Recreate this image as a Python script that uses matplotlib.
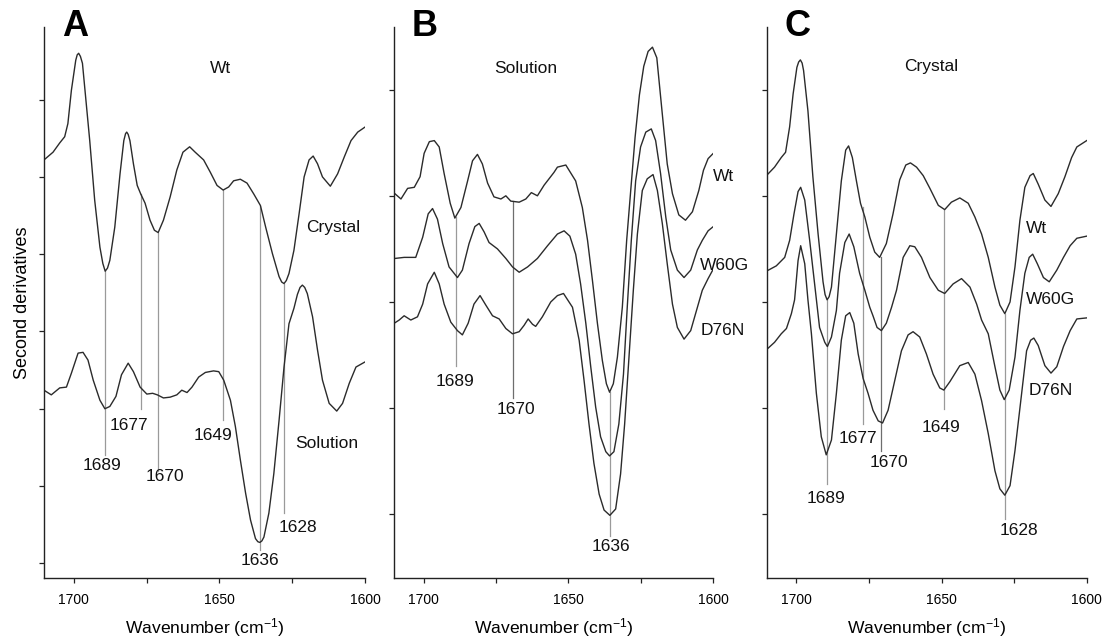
import matplotlib
matplotlib.use("Agg")
import matplotlib.pyplot as plt

plt.rcParams["font.family"] = ["Liberation Sans", "DejaVu Sans"]
plt.rcParams["mathtext.fontset"] = "custom"
plt.rcParams["mathtext.rm"] = "Liberation Sans"

# ── Panel A: wild type, crystal vs solution (arbitrary 2nd-derivative units) ──
A_CRYSTAL_WN = [1710.2, 1707.1, 1704.8, 1703.1, 1702.0, 1700.8, 1699.3, 1698.8, 1698.3,
                1697.7, 1697.0, 1695.9, 1694.5, 1692.8, 1691.0, 1690.0, 1689.2, 1688.4,
                1687.6, 1685.9, 1684.1, 1682.8, 1682.2, 1681.8, 1681.3, 1680.7, 1679.5,
                1678.2, 1677.0, 1675.5, 1673.8, 1672.3, 1671.0, 1669.2, 1666.9, 1664.6,
                1662.5, 1660.2, 1658.3, 1655.4, 1653.1, 1650.8, 1648.7, 1646.8, 1645.1,
                1642.8, 1640.5, 1638.2, 1635.9, 1634.1, 1631.8, 1629.5, 1628.6, 1627.8,
                1627.0, 1626.1, 1624.4, 1622.6, 1620.9, 1619.2, 1617.8, 1616.3, 1614.6,
                1611.9, 1609.4, 1607.1, 1604.8, 1602.5, 1599.8]
A_CRYSTAL_D2 = [5.22, 5.32, 5.44, 5.52, 5.69, 6.12, 6.51, 6.58, 6.60,
                6.56, 6.47, 6.03, 5.47, 4.70, 4.09, 3.88, 3.78, 3.82,
                3.92, 4.35, 5.04, 5.47, 5.56, 5.58, 5.55, 5.47, 5.17,
                4.89, 4.78, 4.66, 4.44, 4.31, 4.28, 4.44, 4.74, 5.09,
                5.32, 5.39, 5.32, 5.22, 5.06, 4.89, 4.83, 4.87, 4.95,
                4.97, 4.92, 4.78, 4.63, 4.35, 4.01, 3.71, 3.64, 3.62,
                3.66, 3.75, 4.05, 4.53, 5.00, 5.22, 5.27, 5.17, 5.00,
                4.88, 5.04, 5.26, 5.47, 5.58, 5.65]

A_SOLUTION_WN = [1710.2, 1707.7, 1704.8, 1702.5, 1700.8, 1698.5, 1696.8, 1695.1, 1693.3,
                 1691.0, 1689.3, 1687.6, 1685.5, 1683.6, 1681.3, 1679.5, 1677.2, 1674.9,
                 1672.9, 1671.3, 1669.2, 1666.9, 1664.6, 1662.9, 1661.1, 1659.4, 1657.1,
                 1654.8, 1652.0, 1650.2, 1648.5, 1646.2, 1644.5, 1642.8, 1641.0, 1639.3,
                 1637.6, 1636.8, 1636.1, 1635.4, 1634.7, 1633.0, 1631.3, 1629.5, 1627.8,
                 1626.1, 1624.4, 1623.2, 1622.3, 1621.5, 1620.7, 1619.8, 1618.0, 1616.3,
                 1614.6, 1612.3, 1609.7, 1607.7, 1605.4, 1603.1, 1599.8]
A_SOLUTION_D2 = [2.24, 2.18, 2.27, 2.28, 2.46, 2.72, 2.73, 2.63, 2.37,
                 2.11, 2.00, 2.03, 2.16, 2.44, 2.59, 2.48, 2.28, 2.19,
                 2.20, 2.18, 2.14, 2.15, 2.18, 2.24, 2.21, 2.28, 2.41,
                 2.47, 2.49, 2.48, 2.37, 2.11, 1.77, 1.34, 0.91, 0.56,
                 0.32, 0.28, 0.27, 0.29, 0.34, 0.65, 1.16, 1.85, 2.54,
                 3.10, 3.30, 3.48, 3.57, 3.60, 3.57, 3.49, 3.19, 2.76,
                 2.37, 2.07, 1.97, 2.07, 2.33, 2.54, 2.61]

# ── Panel B: solution spectra ───────────────────────────────────────────────
B_WT_WN = [1709.9, 1707.8, 1705.5, 1703.2, 1701.2, 1699.8, 1698.0, 1696.3, 1694.6,
           1692.9, 1690.8, 1689.2, 1687.1, 1684.8, 1683.1, 1681.4, 1679.7, 1677.9,
           1675.7, 1673.3, 1671.6, 1669.9, 1667.0, 1664.7, 1662.8, 1660.7, 1658.4,
           1655.0, 1653.8, 1650.9, 1647.5, 1645.2, 1643.4, 1641.7, 1640.0, 1638.3,
           1636.9, 1635.8, 1634.5, 1633.1, 1631.4, 1629.9, 1628.5, 1627.0, 1625.5,
           1624.0, 1622.5, 1621.0, 1619.5, 1617.6, 1615.9, 1614.1, 1611.9, 1609.6,
           1607.2, 1605.0, 1603.4, 1601.8, 1600.0]
B_WT_D2 = [3.02, 2.97, 3.07, 3.08, 3.18, 3.40, 3.51, 3.52, 3.46,
           3.21, 2.93, 2.79, 2.89, 3.14, 3.33, 3.39, 3.30, 3.12,
           2.99, 2.97, 3.00, 2.95, 2.94, 2.97, 3.03, 3.00, 3.10,
           3.22, 3.27, 3.29, 3.14, 2.89, 2.58, 2.20, 1.80, 1.45,
           1.23, 1.15, 1.23, 1.48, 1.95, 2.58, 3.05, 3.55, 3.95,
           4.22, 4.36, 4.40, 4.30, 3.77, 3.30, 3.02, 2.82, 2.77,
           2.85, 3.05, 3.24, 3.35, 3.40]

B_W60G_WN = [1709.9, 1706.7, 1702.7, 1700.3, 1698.4, 1696.9, 1695.2, 1693.4, 1691.2,
             1688.3, 1686.6, 1684.3, 1682.3, 1680.8, 1679.1, 1677.4, 1674.5, 1671.6,
             1669.3, 1667.0, 1664.1, 1660.7, 1657.2, 1653.8, 1651.5, 1649.5, 1647.5,
             1645.8, 1644.0, 1642.3, 1640.6, 1638.9, 1637.1, 1635.8, 1634.3, 1632.6,
             1631.0, 1629.7, 1628.3, 1626.8, 1625.1, 1623.3, 1621.4, 1619.9, 1618.2,
             1616.4, 1614.7, 1612.4, 1610.1, 1607.8, 1605.5, 1603.8, 1601.8, 1600.0]
B_W60G_D2 = [2.41, 2.42, 2.42, 2.61, 2.83, 2.88, 2.78, 2.55, 2.33,
             2.23, 2.30, 2.55, 2.71, 2.74, 2.66, 2.56, 2.50, 2.41,
             2.33, 2.28, 2.33, 2.41, 2.53, 2.64, 2.67, 2.62, 2.45,
             2.17, 1.80, 1.39, 1.01, 0.73, 0.59, 0.55, 0.59, 0.85,
             1.32, 1.95, 2.58, 3.14, 3.46, 3.60, 3.63, 3.52, 3.21,
             2.80, 2.49, 2.30, 2.23, 2.30, 2.49, 2.58, 2.67, 2.71]

B_D76N_WN = [1710.1, 1708.4, 1706.7, 1704.4, 1702.1, 1700.3, 1698.6, 1696.3, 1694.6,
             1692.9, 1690.6, 1688.3, 1686.6, 1684.6, 1682.6, 1680.5, 1678.5, 1676.2,
             1673.9, 1671.6, 1669.3, 1667.0, 1665.3, 1663.9, 1662.4, 1661.3, 1659.0,
             1656.1, 1653.8, 1651.7, 1648.6, 1646.3, 1644.6, 1642.9, 1641.2, 1639.4,
             1637.7, 1635.7, 1633.7, 1632.0, 1630.6, 1629.1, 1627.6, 1626.2, 1624.5,
             1622.8, 1620.8, 1619.3, 1617.6, 1615.9, 1614.1, 1612.4, 1610.1, 1607.8,
             1605.8, 1603.8, 1601.8, 1600.0]
B_D76N_D2 = [1.80, 1.83, 1.87, 1.83, 1.86, 1.98, 2.17, 2.28, 2.17,
             1.98, 1.81, 1.73, 1.69, 1.80, 1.98, 2.06, 1.97, 1.87,
             1.84, 1.75, 1.70, 1.72, 1.78, 1.84, 1.79, 1.77, 1.86,
             2.00, 2.06, 2.08, 1.95, 1.64, 1.26, 0.85, 0.48, 0.19,
             0.04, -0.01, 0.05, 0.38, 0.85, 1.48, 2.11, 2.64, 3.05,
             3.16, 3.20, 3.05, 2.74, 2.36, 1.98, 1.76, 1.65, 1.73,
             1.92, 2.11, 2.22, 2.31]

# ── Panel C: crystal spectra ────────────────────────────────────────────────
C_WT_WN = [1710.3, 1707.5, 1705.2, 1703.7, 1702.3, 1701.1, 1699.8, 1699.2, 1698.6,
           1698.0, 1697.5, 1696.0, 1694.3, 1692.5, 1690.8, 1690.1, 1689.4, 1688.7,
           1687.9, 1686.2, 1684.5, 1683.0, 1682.0, 1680.7, 1679.3, 1677.9, 1676.4,
           1674.7, 1673.0, 1671.3, 1669.0, 1666.7, 1664.4, 1662.3, 1660.7, 1658.6,
           1656.3, 1654.0, 1651.1, 1648.9, 1646.6, 1643.7, 1640.8, 1638.5, 1636.2,
           1633.9, 1631.6, 1629.9, 1628.2, 1626.4, 1624.7, 1623.0, 1621.3, 1619.5,
           1618.4, 1616.7, 1614.4, 1612.3, 1609.8, 1607.5, 1605.2, 1603.4, 1600.0]
C_WT_D2 = [3.19, 3.27, 3.36, 3.41, 3.65, 3.96, 4.21, 4.26, 4.28,
           4.25, 4.18, 3.80, 3.18, 2.64, 2.19, 2.07, 2.02, 2.05,
           2.14, 2.64, 3.14, 3.43, 3.47, 3.36, 3.14, 2.93, 2.80,
           2.61, 2.47, 2.42, 2.55, 2.83, 3.15, 3.29, 3.31, 3.27,
           3.19, 3.07, 2.91, 2.87, 2.94, 2.98, 2.93, 2.80, 2.64,
           2.42, 2.14, 1.97, 1.89, 2.00, 2.33, 2.77, 3.08, 3.19,
           3.21, 3.11, 2.96, 2.90, 3.02, 3.18, 3.36, 3.46, 3.52]

C_W60G_WN = [1710.3, 1706.9, 1704.0, 1702.3, 1700.8, 1699.4, 1698.5, 1697.1, 1695.4,
             1693.7, 1692.0, 1690.2, 1689.3, 1687.9, 1686.2, 1685.1, 1683.3, 1681.8,
             1680.2, 1678.2, 1676.4, 1674.7, 1673.6, 1672.2, 1670.7, 1669.0, 1667.2,
             1665.5, 1663.2, 1660.9, 1659.2, 1656.9, 1654.0, 1651.1, 1648.9, 1646.0,
             1643.1, 1640.2, 1637.9, 1636.2, 1633.9, 1631.6, 1629.9, 1628.4, 1626.7,
             1624.7, 1623.0, 1621.3, 1619.8, 1618.6, 1617.0, 1614.9, 1612.9, 1610.3,
             1608.0, 1605.7, 1603.4, 1600.0]
C_W60G_D2 = [2.29, 2.34, 2.42, 2.58, 2.83, 3.04, 3.08, 2.96, 2.58,
             2.17, 1.76, 1.62, 1.58, 1.67, 1.92, 2.27, 2.56, 2.64,
             2.52, 2.27, 2.11, 1.95, 1.87, 1.76, 1.73, 1.80, 1.95,
             2.11, 2.42, 2.53, 2.52, 2.42, 2.23, 2.11, 2.08, 2.17,
             2.22, 2.14, 1.98, 1.83, 1.70, 1.39, 1.17, 1.08, 1.17,
             1.48, 1.92, 2.27, 2.42, 2.45, 2.36, 2.23, 2.19, 2.30,
             2.42, 2.53, 2.60, 2.62]

C_D76N_WN = [1710.3, 1707.5, 1705.2, 1703.4, 1701.7, 1700.6, 1699.4, 1698.5, 1697.1,
             1696.0, 1694.8, 1693.1, 1691.4, 1689.7, 1687.9, 1686.2, 1684.5, 1683.0,
             1681.6, 1680.2, 1678.7, 1677.0, 1675.3, 1673.6, 1671.8, 1670.3, 1668.4,
             1666.1, 1663.8, 1661.5, 1659.8, 1657.5, 1655.2, 1652.9, 1650.6, 1649.2,
             1647.1, 1643.7, 1640.8, 1638.5, 1636.2, 1633.9, 1631.6, 1629.9, 1628.2,
             1626.4, 1624.7, 1622.4, 1620.7, 1619.3, 1618.2, 1616.7, 1614.4, 1612.3,
             1610.3, 1608.0, 1605.7, 1603.4, 1600.0]
C_D76N_D2 = [1.55, 1.62, 1.70, 1.75, 1.89, 2.02, 2.39, 2.53, 2.36,
             2.02, 1.70, 1.14, 0.73, 0.56, 0.70, 1.14, 1.64, 1.87,
             1.90, 1.80, 1.51, 1.28, 1.14, 0.98, 0.88, 0.86, 0.98,
             1.26, 1.54, 1.69, 1.72, 1.67, 1.51, 1.32, 1.19, 1.17,
             1.25, 1.40, 1.43, 1.32, 1.07, 0.76, 0.41, 0.24, 0.18,
             0.27, 0.60, 1.14, 1.54, 1.64, 1.66, 1.59, 1.40, 1.33,
             1.39, 1.58, 1.73, 1.84, 1.85]

# ── Band assignments: position, drop-line top and bottom ────────────────────
A_BANDS = ["1689", "1677", "1670", "1649", "1636", "1628"]
A_BAND_WN = [1689.2, 1677.0, 1671.0, 1648.9, 1636.0, 1627.8]
A_BAND_TOP = [3.78, 4.78, 4.28, 4.83, 4.63, 3.62]
A_BAND_BOTTOM = [1.40, 2.00, 1.19, 1.85, 0.17, 0.65]

B_BANDS = ["1689", "1670", "1636"]
B_BAND_WN = [1688.9, 1669.1, 1635.8]
B_BAND_TOP = [2.80, 2.95, 1.15]
B_BAND_BOTTOM = [1.40, 1.10, -0.20]

C_BANDS = ["1689", "1677", "1670", "1649", "1628"]
C_BAND_WN = [1689.4, 1677.1, 1671.0, 1649.2, 1628.2]
C_BAND_TOP = [2.02, 2.89, 2.42, 2.87, 1.89]
C_BAND_BOTTOM = [0.29, 0.85, 0.60, 0.99, -0.04]

# ── Layout (figure pixels are 1110 x 641 at dpi 100) ───────────────────────
FIG_W, FIG_H = 1110, 641
CURVE_COLOR = "#2b2b2b"
LINE_GREY = "#9a9a9a"
LINE_DARK = "#6e6e6e"

PANELS = [
    # letter, axes left/right px, ylim, yticks
    ("A", 44.0, 365.0, (-0.19, 6.94), range(0, 7)),
    ("B", 394.0, 713.3, (-0.60, 4.59), range(0, 5)),
    ("C", 766.7, 1086.7, (-0.60, 4.59), range(0, 5)),
]
AX_TOP_PX, AX_BOTTOM_PX = 27.0, 578.0


def _make_axes(fig, left_px, right_px):
    return fig.add_axes([
        left_px / FIG_W,
        1 - AX_BOTTOM_PX / FIG_H,
        (right_px - left_px) / FIG_W,
        (AX_BOTTOM_PX - AX_TOP_PX) / FIG_H,
    ])


def _style(ax, ylim, yticks):
    ax.set_xlim(1710.2, 1600)
    ax.set_ylim(*ylim)
    for side in ("top", "right"):
        ax.spines[side].set_visible(False)
    for side in ("left", "bottom"):
        ax.spines[side].set_linewidth(1.0)
        ax.spines[side].set_color("#222222")
    ax.set_xticks([1700, 1650, 1600])
    ax.set_xticks([1675, 1625], minor=True)
    ax.set_yticks(list(yticks))
    ax.set_yticklabels([])
    ax.tick_params(axis="both", which="both", direction="out", length=3.6,
                   width=0.9, color="#222222", labelsize=10, pad=7.5)
    ax.set_xlabel("Wavenumber (cm$\\mathregular{^{-1}}$)", fontsize=12.6, labelpad=6)


def _curve(ax, wn, d2):
    ax.plot(wn, d2, color=CURVE_COLOR, linewidth=1.0, solid_joinstyle="round")


def _bands(ax, wn, top, bottom, colors):
    for x, y0, y1, c in zip(wn, top, bottom, colors):
        ax.plot([x, x], [y0, y1], color=c, linewidth=0.9, zorder=1)


def _label(ax, x, y, s, ha="center"):
    ax.text(x, y, s, fontsize=12.5, ha=ha, va="center", color="#111111")


fig = plt.figure(figsize=(FIG_W / 100, FIG_H / 100), dpi=100)
fig.patch.set_facecolor("white")
axes = {}
for letter, lpx, rpx, ylim, yticks in PANELS:
    ax = _make_axes(fig, lpx, rpx)
    _style(ax, ylim, yticks)
    axes[letter] = ax
    fig.text((lpx + 31) / FIG_W, 1 - 27 / FIG_H, letter, fontsize=26,
             fontweight="bold", ha="center", va="center")

# ── A ──
ax = axes["A"]
_bands(ax, A_BAND_WN, A_BAND_TOP, A_BAND_BOTTOM, [LINE_GREY] * len(A_BANDS))
_curve(ax, A_CRYSTAL_WN, A_CRYSTAL_D2)
_curve(ax, A_SOLUTION_WN, A_SOLUTION_D2)
for s, x, y in zip(A_BANDS, [1690.3, 1681.1, 1668.6, 1652.2, 1636.1, 1622.9],
                   [1.26, 1.78, 1.12, 1.65, 0.03, 0.46]):
    _label(ax, x, y, s)
_label(ax, 1649.7, 6.40, "Wt")
_label(ax, 1610.9, 4.34, "Crystal")
_label(ax, 1613.2, 1.55, "Solution")
ax.set_ylabel("Second derivatives", fontsize=13, labelpad=-2)

# ── B ──
ax = axes["B"]
_bands(ax, B_BAND_WN, B_BAND_TOP, B_BAND_BOTTOM, [LINE_GREY, LINE_DARK, LINE_GREY])
_curve(ax, B_WT_WN, B_WT_D2)
_curve(ax, B_W60G_WN, B_W60G_D2)
_curve(ax, B_D76N_WN, B_D76N_D2)
for s, x, y in zip(B_BANDS, [1689.0, 1668.2, 1635.2], [1.25, 0.99, -0.30]):
    _label(ax, x, y, s)
_label(ax, 1664.7, 4.20, "Solution")
_label(ax, 1600.0, 3.18, "Wt", ha="left")
_label(ax, 1604.5, 2.34, "W60G", ha="left")
_label(ax, 1604.5, 1.73, "D76N", ha="left")

# ── C ──
ax = axes["C"]
_bands(ax, C_BAND_WN, C_BAND_TOP, C_BAND_BOTTOM,
       [LINE_GREY, LINE_GREY, LINE_DARK, LINE_GREY, LINE_GREY])
_curve(ax, C_WT_WN, C_WT_D2)
_curve(ax, C_W60G_WN, C_W60G_D2)
_curve(ax, C_D76N_WN, C_D76N_D2)
for s, x, y in zip(C_BANDS, [1689.7, 1678.7, 1668.2, 1650.3, 1623.4],
                   [0.15, 0.71, 0.49, 0.82, -0.15]):
    _label(ax, x, y, s)
_label(ax, 1653.4, 4.22, "Crystal")
_label(ax, 1620.9, 2.69, "Wt", ha="left")
_label(ax, 1620.9, 2.02, "W60G", ha="left")
_label(ax, 1620.1, 1.17, "D76N", ha="left")

fig.savefig("out.png", dpi=100, facecolor="white")
